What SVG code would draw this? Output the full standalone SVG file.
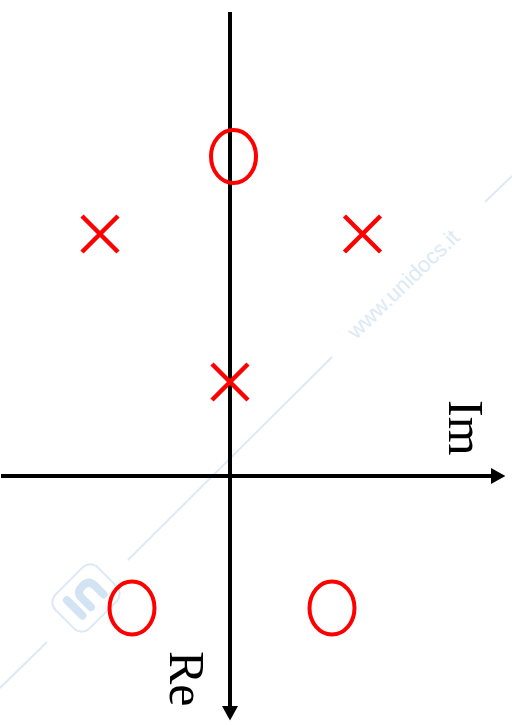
<svg xmlns="http://www.w3.org/2000/svg" width="512" height="725" viewBox="0 0 512 725">
<style>
.wm{stroke:#dce9f6;stroke-width:2;fill:none}
.wmt{fill:#dce9f6;font-family:"Liberation Sans",Arial,sans-serif;font-size:22px}
.ax{stroke:#000;stroke-width:4;fill:none}
.pole{stroke:#ff0000;stroke-width:4.5;fill:none}
.zero{stroke:#ff0000;stroke-width:4;fill:none}
.lbl{font-family:"Liberation Serif","Times New Roman",serif;font-size:50px;fill:#000}
</style>
<defs>
<marker id="arr" markerWidth="4" markerHeight="4" refX="0" refY="2" orient="auto" markerUnits="strokeWidth">
<path d="M0,0 L3.6,2 L0,4 Z" fill="#000"/>
</marker>
</defs>
<rect width="512" height="725" fill="#fff"/>
<g id="watermark">
<line class="wm" x1="0" y1="688" x2="47" y2="642"/>
<line class="wm" x1="128" y1="560" x2="332" y2="357"/>
<line class="wm" x1="485" y1="202" x2="512" y2="176"/>
<text class="wmt" transform="translate(356,340) rotate(-44)">www.unidocs.it</text>
<g transform="translate(86,598) rotate(-45)">
<rect x="-30" y="-24" width="60" height="48" rx="11" class="wm" stroke-width="3"/>
<path d="M-15,10 L-15,-12 M-3,10 L-3,-3 Q-3,-11 6,-11 Q15,-11 15,-2 L15,10" stroke="#d2e3f3" stroke-width="8" stroke-linecap="round" fill="none"/>
</g>
</g>
<g id="connectors">
<line id="im-axis" class="ax" x1="1" y1="476" x2="491" y2="476" marker-end="url(#arr)"/>
<line id="re-axis" class="ax" x1="230" y1="12" x2="230" y2="706" marker-end="url(#arr)"/>
</g>
<g id="zero-top"><ellipse class="zero" cx="233.5" cy="156.5" rx="22.5" ry="26.5"/></g>
<g id="zero-left"><ellipse class="zero" cx="132" cy="608" rx="22.5" ry="26.5"/></g>
<g id="zero-right"><ellipse class="zero" cx="332" cy="608" rx="22.5" ry="26.5"/></g>
<g id="pole-left"><path class="pole" d="M82,216 L118,252 M118,216 L82,252"/></g>
<g id="pole-right"><path class="pole" d="M344.5,216 L380.5,252 M380.5,216 L344.5,252"/></g>
<g id="pole-center"><path class="pole" d="M212,364 L248,400 M248,364 L212,400"/></g>
<g id="label-im"><text class="lbl" transform="translate(449,400) rotate(90)">Im</text></g>
<g id="label-re"><text class="lbl" transform="translate(170,651) rotate(90)">Re</text></g>
</svg>
